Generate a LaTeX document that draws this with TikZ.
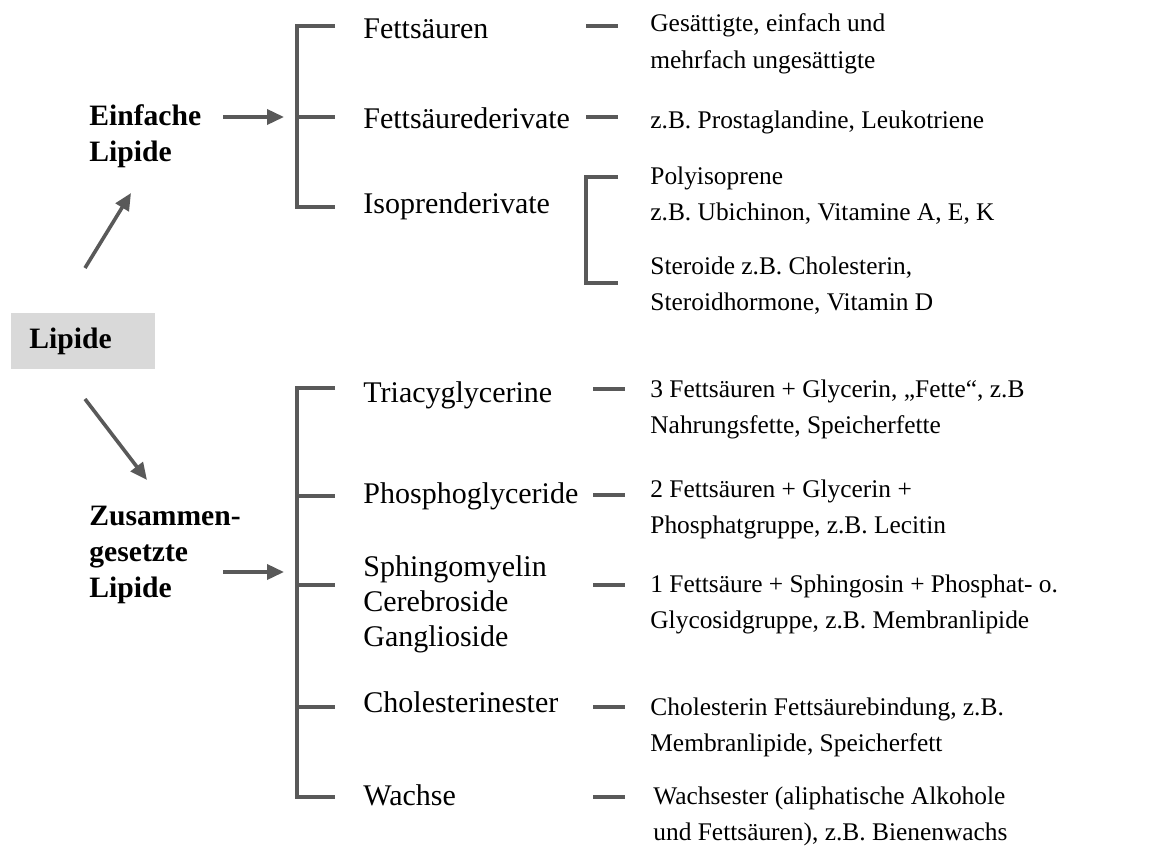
\documentclass[tikz,border=0pt]{standalone}
\usepackage{fontspec}
\setmainfont{Liberation Serif}
\usetikzlibrary{arrows.meta}
\definecolor{linegray}{HTML}{595959}
\definecolor{boxgray}{HTML}{D9D9D9}
\begin{document}
% multi-line nodes are placed by the baseline of their last line
\begin{tikzpicture}[x=0.5pt,y=-0.5pt,
  conn/.style={draw=linegray,line width=1.8pt},
  arr/.style={conn,-{Triangle[length=8.5pt,width=7.5pt]}},
  desc/.style={anchor=base west,inner sep=0pt,align=left,font=\fontsize{12.7}{18}\selectfont},
  item/.style={anchor=base west,inner sep=0pt,align=left,font=\fontsize{15}{17.3}\selectfont},
  group/.style={anchor=base west,inner sep=0pt,align=left,font=\fontsize{14.8}{17.8}\selectfont\bfseries},
]
\useasboundingbox (0,0) rectangle (1150,846);

% root box
\node[fill=boxgray,anchor=north west,inner xsep=9pt,inner ysep=0pt,
      minimum height=28pt,text width=54pt,align=left,
      font=\fontsize{14.8}{17.8}\selectfont\bfseries] (lip) at (11,313) {Lipide};

% the two groups
\node[group] (ein) at (89,161) {Einfache\\Lipide};
\node[group] (zus) at (89,597) {Zusammen-\\gesetzte\\Lipide};

% arrows from the root to the groups
\coordinate (upS) at (85,268);  \coordinate (upE) at (131,193);
\coordinate (dnS) at (85,399);  \coordinate (dnE) at (147,480);
\draw[arr] (upS) -- (upE);
\draw[arr] (dnS) -- (dnE);

% arrows from the groups to their brackets
\coordinate (einA) at (223,117); \coordinate (einB) at (284,117);
\coordinate (zusA) at (223,572); \coordinate (zusB) at (284,572);
\draw[arr] (einA) -- (einB);
\draw[arr] (zusA) -- (zusB);

% upper bracket
\draw[conn] (335,26) -| (297,207) -- (335,207);
\draw[conn] (297,117) -- (335,117);

% lower bracket
\draw[conn] (335,388) -| (297,797) -- (335,797);
\foreach \y in {496,585,707} \draw[conn] (297,\y) -- (335,\y);

% middle column
\node[item] (fs)  at (363,39)  {Fettsäuren};
\node[item] (fsd) at (363,128) {Fettsäurederivate};
\node[item] (iso) at (363,213) {Isoprenderivate};
\node[item] (tri) at (363,402) {Triacyglycerine};
\node[item] (pho) at (363,503) {Phosphoglyceride};
\node[item] (sph) at (363,646) {Sphingomyelin\\Cerebroside\\Ganglioside};
\node[item] (che) at (363,712) {Cholesterinester};
\node[item] (wax) at (363,805) {Wachse};

% dashes towards the descriptions
\draw[conn] (586,26) -- (618,26);
\draw[conn] (586,117) -- (618,117);
\draw[conn] (618,177) -| (586,283) -- (618,283);
\foreach \y in {389,495,585,707,797} \draw[conn] (593,\y) -- (625,\y);

% descriptions
\node[desc] (dfs)  at (650,68)  {Gesättigte, einfach und\\mehrfach ungesättigte};
\node[desc] (dfsd) at (650,128) {z.B. Prostaglandine, Leukotriene};
\node[desc] (dpoly) at (650,220) {Polyisoprene\\z.B. Ubichinon, Vitamine A, E, K};
\node[desc] (dster) at (650,310) {Steroide z.B. Cholesterin,\\Steroidhormone, Vitamin D};
\node[desc] (dtri) at (650,433) {3 Fettsäuren + Glycerin, „Fette“, z.B\\Nahrungsfette, Speicherfette};
\node[desc] (dpho) at (650,533) {2 Fettsäuren + Glycerin +\\Phosphatgruppe, z.B. Lecitin};
\node[desc] (dsph) at (650,628) {1 Fettsäure + Sphingosin + Phosphat- o.\\Glycosidgruppe, z.B. Membranlipide};
\node[desc] (dche) at (650,751) {Cholesterin Fettsäurebindung, z.B.\\Membranlipide, Speicherfett};
\node[desc] (dwax) at (653,840) {Wachsester (aliphatische Alkohole\\und Fettsäuren), z.B. Bienenwachs};
\end{tikzpicture}
\end{document}
